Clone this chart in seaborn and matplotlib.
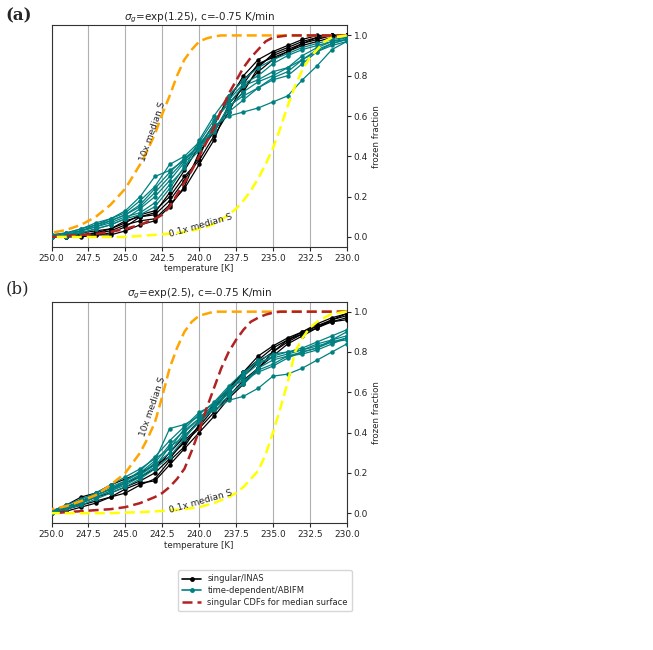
import numpy as np
import pandas as pd
import matplotlib
matplotlib.use('Agg')
import matplotlib.pyplot as plt
import seaborn as sns
from matplotlib.lines import Line2D

# temperatures for the simulated freezing curves (1 K steps)
temps = list(range(250, 229, -1))

# (a) sigma_g = exp(1.25)
black_a = [
    [0.0, 0.0, 0.01, 0.01, 0.02, 0.05, 0.10, 0.12, 0.22, 0.33, 0.45, 0.56, 0.68, 0.80, 0.88, 0.92, 0.95, 0.98, 1.0, 1.0, 1.0],
    [0.0, 0.01, 0.01, 0.02, 0.04, 0.08, 0.10, 0.11, 0.18, 0.28, 0.40, 0.55, 0.70, 0.78, 0.85, 0.90, 0.93, 0.96, 0.98, 1.0, 1.0],
    [0.0, 0.0, 0.0, 0.01, 0.01, 0.03, 0.06, 0.08, 0.15, 0.25, 0.42, 0.52, 0.64, 0.72, 0.84, 0.91, 0.94, 0.97, 0.99, 1.0, 1.0],
    [0.0, 0.01, 0.02, 0.03, 0.04, 0.07, 0.11, 0.13, 0.20, 0.30, 0.38, 0.50, 0.62, 0.76, 0.86, 0.89, 0.92, 0.95, 0.97, 0.99, 1.0],
    [0.0, 0.0, 0.01, 0.02, 0.03, 0.06, 0.08, 0.09, 0.16, 0.24, 0.36, 0.48, 0.66, 0.74, 0.82, 0.88, 0.92, 0.96, 0.99, 1.0, 1.0],
]
teal_a = [
    [0.0, 0.01, 0.03, 0.05, 0.08, 0.11, 0.15, 0.22, 0.30, 0.38, 0.46, 0.55, 0.60, 0.62, 0.64, 0.67, 0.70, 0.78, 0.85, 0.93, 0.97],
    [0.0, 0.02, 0.04, 0.06, 0.09, 0.13, 0.20, 0.30, 0.33, 0.38, 0.45, 0.52, 0.65, 0.70, 0.74, 0.78, 0.80, 0.86, 0.92, 0.96, 0.98],
    [0.01, 0.02, 0.04, 0.07, 0.09, 0.12, 0.18, 0.25, 0.36, 0.40, 0.47, 0.58, 0.66, 0.75, 0.78, 0.82, 0.84, 0.88, 0.93, 0.96, 0.98],
    [0.0, 0.01, 0.02, 0.04, 0.06, 0.09, 0.14, 0.20, 0.28, 0.37, 0.44, 0.56, 0.68, 0.76, 0.80, 0.86, 0.90, 0.93, 0.95, 0.97, 0.99],
    [0.0, 0.01, 0.03, 0.05, 0.07, 0.10, 0.12, 0.17, 0.26, 0.34, 0.48, 0.60, 0.70, 0.78, 0.84, 0.88, 0.91, 0.94, 0.96, 0.98, 0.99],
    [0.0, 0.0, 0.02, 0.04, 0.06, 0.09, 0.11, 0.15, 0.24, 0.35, 0.43, 0.54, 0.62, 0.68, 0.74, 0.79, 0.82, 0.88, 0.92, 0.95, 0.97],
    [0.01, 0.02, 0.03, 0.06, 0.08, 0.11, 0.16, 0.24, 0.32, 0.39, 0.45, 0.53, 0.64, 0.72, 0.77, 0.80, 0.84, 0.90, 0.94, 0.97, 0.98],
]

# (b) sigma_g = exp(2.5)
black_b = [
    [0.0, 0.03, 0.06, 0.09, 0.12, 0.15, 0.18, 0.22, 0.30, 0.38, 0.46, 0.52, 0.60, 0.68, 0.75, 0.80, 0.85, 0.89, 0.93, 0.96, 0.99],
    [0.01, 0.04, 0.08, 0.10, 0.14, 0.17, 0.20, 0.24, 0.28, 0.35, 0.42, 0.50, 0.58, 0.66, 0.72, 0.78, 0.84, 0.88, 0.92, 0.95, 0.97],
    [0.0, 0.02, 0.04, 0.06, 0.08, 0.10, 0.14, 0.17, 0.26, 0.33, 0.44, 0.54, 0.62, 0.70, 0.78, 0.83, 0.87, 0.90, 0.94, 0.97, 0.99],
    [0.0, 0.01, 0.03, 0.05, 0.08, 0.12, 0.15, 0.16, 0.24, 0.32, 0.40, 0.48, 0.57, 0.64, 0.72, 0.80, 0.86, 0.90, 0.93, 0.95, 0.96],
    [0.0, 0.02, 0.05, 0.08, 0.10, 0.13, 0.16, 0.20, 0.27, 0.36, 0.43, 0.52, 0.61, 0.70, 0.76, 0.82, 0.86, 0.89, 0.92, 0.96, 0.98],
]
teal_b = [
    [0.01, 0.03, 0.06, 0.10, 0.13, 0.16, 0.20, 0.26, 0.42, 0.44, 0.48, 0.52, 0.58, 0.65, 0.72, 0.76, 0.78, 0.80, 0.82, 0.86, 0.90],
    [0.0, 0.03, 0.05, 0.09, 0.12, 0.15, 0.19, 0.24, 0.30, 0.40, 0.47, 0.51, 0.56, 0.58, 0.62, 0.68, 0.69, 0.72, 0.76, 0.80, 0.84],
    [0.01, 0.04, 0.07, 0.10, 0.14, 0.18, 0.22, 0.27, 0.32, 0.42, 0.49, 0.55, 0.63, 0.70, 0.75, 0.77, 0.79, 0.81, 0.84, 0.86, 0.88],
    [0.0, 0.02, 0.05, 0.08, 0.11, 0.14, 0.18, 0.23, 0.33, 0.38, 0.45, 0.52, 0.60, 0.68, 0.74, 0.78, 0.80, 0.82, 0.85, 0.88, 0.91],
    [0.01, 0.03, 0.06, 0.09, 0.12, 0.16, 0.21, 0.28, 0.36, 0.43, 0.50, 0.54, 0.62, 0.66, 0.70, 0.73, 0.77, 0.80, 0.82, 0.85, 0.87],
    [0.0, 0.02, 0.04, 0.07, 0.10, 0.13, 0.17, 0.22, 0.28, 0.37, 0.46, 0.53, 0.61, 0.69, 0.76, 0.79, 0.80, 0.81, 0.83, 0.85, 0.86],
    [0.01, 0.03, 0.05, 0.08, 0.11, 0.15, 0.19, 0.25, 0.34, 0.41, 0.47, 0.54, 0.59, 0.64, 0.71, 0.74, 0.78, 0.79, 0.81, 0.84, 0.87],
]

# singular CDFs (dashed), sampled on a finer irregular grid
cdf_t = [250, 249, 248, 247, 246, 245, 244, 243.5, 243, 242.5, 242, 241.5, 241, 240.5, 240, 239.5, 239,
         238.5, 238, 237.5, 237, 236.5, 236, 235.5, 235, 234.5, 234, 233.5, 233, 232.5, 232, 231.5, 231, 230]
orange_a = [0.02, 0.035, 0.06, 0.10, 0.16, 0.24, 0.36, 0.43, 0.51, 0.61, 0.70, 0.80, 0.88, 0.93, 0.97, 0.985, 0.995,
            1.0, 1.0, 1.0, 1.0, 1.0, 1.0, 1.0, 1.0, 1.0, 1.0, 1.0, 1.0, 1.0, 1.0, 1.0, 1.0, 1.0]
median_a = [0.0, 0.005, 0.01, 0.015, 0.025, 0.04, 0.06, 0.075, 0.09, 0.11, 0.15, 0.21, 0.27, 0.33, 0.40, 0.47, 0.54,
            0.63, 0.71, 0.775, 0.84, 0.89, 0.93, 0.97, 0.99, 0.995, 1.0, 1.0, 1.0, 1.0, 1.0, 1.0, 1.0, 1.0]
yellow_a = [0.0, 0.0, 0.0, 0.0, 0.0, 0.0, 0.005, 0.008, 0.01, 0.013, 0.016, 0.02, 0.025, 0.032, 0.04, 0.05, 0.065,
            0.085, 0.11, 0.14, 0.18, 0.23, 0.29, 0.36, 0.44, 0.54, 0.65, 0.75, 0.83, 0.89, 0.93, 0.97, 0.99, 1.0]
orange_b = [0.02, 0.035, 0.06, 0.09, 0.14, 0.20, 0.30, 0.37, 0.45, 0.58, 0.72, 0.82, 0.90, 0.95, 0.98, 0.99, 1.0,
            1.0, 1.0, 1.0, 1.0, 1.0, 1.0, 1.0, 1.0, 1.0, 1.0, 1.0, 1.0, 1.0, 1.0, 1.0, 1.0, 1.0]
median_b = [0.0, 0.005, 0.01, 0.015, 0.02, 0.03, 0.05, 0.065, 0.08, 0.10, 0.13, 0.17, 0.22, 0.31, 0.41, 0.52, 0.62,
            0.72, 0.80, 0.86, 0.91, 0.95, 0.97, 0.985, 0.995, 1.0, 1.0, 1.0, 1.0, 1.0, 1.0, 1.0, 1.0, 1.0]
yellow_b = [0.0, 0.0, 0.0, 0.0, 0.0, 0.003, 0.005, 0.007, 0.009, 0.011, 0.014, 0.017, 0.02, 0.025, 0.03, 0.04, 0.05,
            0.065, 0.08, 0.10, 0.13, 0.17, 0.21, 0.29, 0.40, 0.52, 0.65, 0.80, 0.87, 0.92, 0.95, 0.97, 0.99, 1.0]

titles = [r'$\sigma_g$=exp(1.25), c=-0.75 K/min', r'$\sigma_g$=exp(2.5), c=-0.75 K/min']
xticks = [250.0, 247.5, 245.0, 242.5, 240.0, 237.5, 235.0, 232.5, 230.0]

sns.set_style('white')
plt.rcParams['font.family'] = ['DejaVu Sans']

fig = plt.figure(figsize=(6.53, 6.5), dpi=100)
ax_a = fig.add_axes([0.079, 0.620, 0.452, 0.341])
ax_b = fig.add_axes([0.079, 0.195, 0.452, 0.341])

data = [
    (ax_a, black_a, teal_a, orange_a, median_a, yellow_a),
    (ax_b, black_b, teal_b, orange_b, median_b, yellow_b),
]
dash = (0, (4, 2))

for i, (ax, blk, tl, org, med, yel) in enumerate(data):
    for c in blk:
        sns.lineplot(x=temps, y=c, ax=ax, color='k', marker='o', markersize=3.2,
                     markeredgewidth=0, linewidth=0.9, zorder=3)
    for c in tl:
        sns.lineplot(x=temps, y=c, ax=ax, color='teal', marker='o', markersize=3.2,
                     markeredgewidth=0, linewidth=0.9, zorder=3)
    sns.lineplot(x=cdf_t, y=org, ax=ax, color='orange', linestyle=dash, linewidth=1.8, zorder=4)
    sns.lineplot(x=cdf_t, y=med, ax=ax, color='firebrick', linestyle=dash, linewidth=1.8, zorder=4)
    sns.lineplot(x=cdf_t, y=yel, ax=ax, color='yellow', linestyle=dash, linewidth=1.8, zorder=4)

    ax.text(243.15, 0.52 if i == 0 else 0.53, '10x median S', rotation=71, fontsize=6.5,
            ha='center', va='center', zorder=5)
    ax.text(239.9, 0.055, '0.1x median S', rotation=16, fontsize=6.5,
            ha='center', va='center', zorder=5)

    ax.set_xlim(250, 230)
    ax.set_ylim(-0.05, 1.05)
    ax.set_xticks(xticks)
    ax.set_xticklabels(['%.1f' % t for t in xticks])
    ax.set_yticks([0.0, 0.2, 0.4, 0.6, 0.8, 1.0])
    ax.yaxis.tick_right()
    ax.yaxis.set_label_position('right')
    ax.tick_params(axis='both', labelsize=6.5, length=3, width=0.8, direction='out',
                   bottom=True, right=True, left=False, pad=2)
    ax.grid(True, axis='x', color='#b0b0b0', linewidth=0.8)
    ax.set_xlabel('temperature [K]', fontsize=6.2, labelpad=1)
    ax.set_ylabel('frozen fraction', fontsize=6.2, labelpad=3)
    ax.set_title(titles[i], fontsize=7.5, pad=4)
    for s in ax.spines.values():
        s.set_color('#333333')
        s.set_linewidth(0.8)

fig.text(0.008, 0.975, '(a)', fontsize=12, fontweight='bold', family='DejaVu Serif', va='center')
fig.text(0.008, 0.555, '(b)', fontsize=12, family='DejaVu Serif', va='center')

handles = [
    Line2D([0], [0], color='k', marker='o', markersize=2.5, linewidth=1.2),
    Line2D([0], [0], color='teal', marker='o', markersize=2.5, linewidth=1.2),
    Line2D([0], [0], color='firebrick', linestyle=dash, linewidth=1.8),
]
fig.legend(handles, ['singular/INAS', 'time-dependent/ABIFM', 'singular CDFs for median surface'],
           loc='center', bbox_to_anchor=(0.406, 0.091), fontsize=6, frameon=True,
           handlelength=2.2, borderpad=0.5, labelspacing=0.35)

fig.savefig('out.png', dpi=100)
